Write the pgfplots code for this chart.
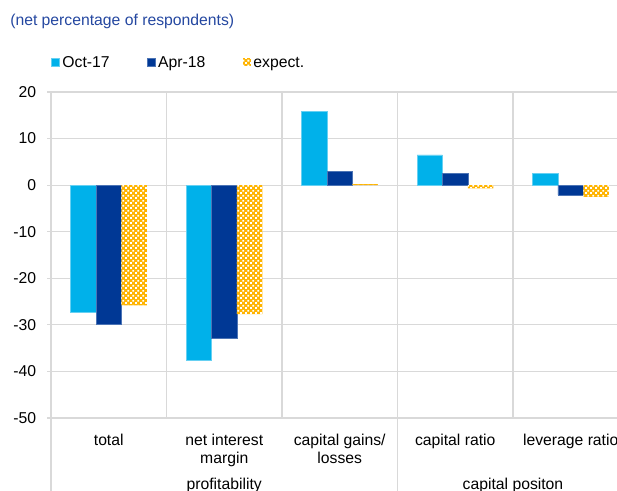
\documentclass[border=0pt]{standalone}
\usepackage{pgfplots}
\pgfplotsset{compat=1.18}
\usepackage{fontspec}
\setmainfont{Liberation Sans}
\usetikzlibrary{patterns}

\definecolor{octblue}{HTML}{00B1EA}
\definecolor{aprblue}{HTML}{003895}
\definecolor{expyellow}{HTML}{FFB400}
\definecolor{titleblue}{HTML}{2447A0}
\definecolor{gridgray}{HTML}{D9D9D9}

% white dots on a yellow fill give the chequered look of the expectations
\pgfdeclarepatternformonly{dots chequer}{\pgfpointorigin}{\pgfqpoint{3.6pt}{3.6pt}}{\pgfqpoint{3.6pt}{3.6pt}}{%
  \pgfpathrectangle{\pgfpointorigin}{\pgfqpoint{1.4pt}{1.4pt}}%
  \pgfpathrectangle{\pgfqpoint{1.8pt}{1.8pt}}{\pgfqpoint{1.4pt}{1.4pt}}%
  \pgfusepath{fill}}

\begin{document}
\fontsize{11.8pt}{13.4pt}\selectfont
\begin{tikzpicture}[x=0.75pt,y=0.75pt]
\begin{axis}[
  at={(38.25pt,54.75pt)}, anchor=south west,
  scale only axis, width=433.1pt, height=244.5pt,
  ybar=0pt, bar width=19.1pt,
  xmin=-0.5, xmax=4.5, ymin=-50, ymax=20,
  ytick={-50,-40,...,20},
  xtick={0,1,2,3,4},
  xticklabels={total,{net interest\\margin},{capital gains/\\losses},capital ratio,leverage ratio},
  minor xtick={-0.5,0.5,1.5,2.5,3.5,4.5},
  ymajorgrids, xminorgrids,
  grid style={gridgray, line width=0.9pt},
  minor grid style={gridgray, line width=0.9pt},
  axis line style={draw=none},
  xtick style={draw=none},
  minor tick length=0pt,
  ytick style={gridgray, line width=0.9pt},
  tick align=outside, ytick pos=left, major tick length=3pt,
  xticklabel style={align=center, anchor=north, yshift=-5pt, font=\fontsize{11.8pt}{13.4pt}\selectfont},
  yticklabel style={font=\fontsize{11.8pt}{13.4pt}\selectfont, xshift=-4pt},
  /pgf/number format/assume math mode=true,
  clip=false,
  legend columns=3,
  legend style={at={(0.0,1.092)}, anchor=west, draw=none, fill=none,
    font=\fontsize{11.8pt}{13.4pt}\selectfont,
    nodes={text height=1.6ex, text depth=0.25ex},
    /tikz/every even column/.style={column sep=26pt},
    inner sep=0pt},
  legend image code/.code={\path[#1] (0pt,-3pt) rectangle (6pt,3pt);},
]
\addplot[fill=octblue, draw=octblue!60!white] coordinates {(0,-27.4) (1,-37.6) (2,15.8) (3,6.5) (4,2.6)};
\addplot[fill=aprblue, draw=aprblue!70!white] coordinates {(0,-29.9) (1,-32.8) (2,2.9) (3,2.5) (4,-2.1)};
\addplot[fill=expyellow, draw=none, postaction={pattern=dots chequer, pattern color=white}] coordinates {(0,-25.8) (1,-27.7) (2,0.2) (3,-0.7) (4,-2.5)};
\legend{Oct-17,Apr-18,expect.}

% separators running down through the category labels
\draw[gridgray, line width=0.9pt] (axis cs:-0.5,-50) -- ++(0pt,-60pt);
\draw[gridgray, line width=0.9pt] (axis cs:2.5,-50) -- ++(0pt,-60pt);
\draw[gridgray, line width=0.9pt] (axis cs:-0.5,-50) -- (axis cs:4.5,-50);

% group names
\node[anchor=center] at ([yshift=-50.25pt]axis cs:1,-50) {profitability};
\node[anchor=center] at ([yshift=-50.25pt]axis cs:3.5,-50) {capital positon};
\end{axis}
\node[anchor=west, text=titleblue, inner sep=0pt] at (10,469.5) {(net percentage of respondents)};
\pgfresetboundingbox
\path[use as bounding box] (0,0) rectangle (617,491);
\end{tikzpicture}
\end{document}
